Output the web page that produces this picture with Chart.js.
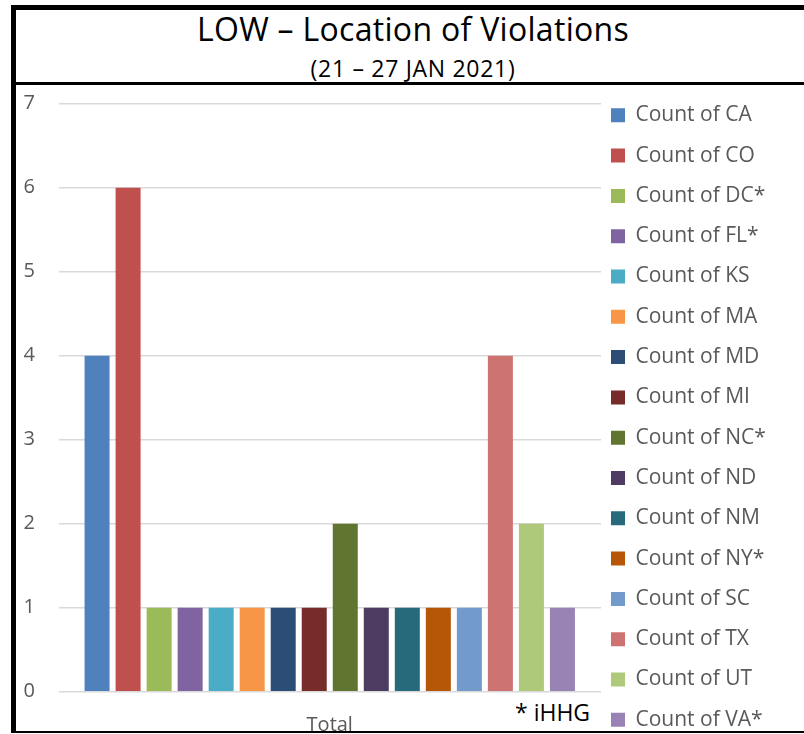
<!DOCTYPE html>
<html>
<head>
<meta charset="utf-8">
<script src="https://cdn.jsdelivr.net/npm/chart.js@4.4.1/dist/chart.umd.min.js"></script>
<style>
	body { margin: 0; width: 804px; height: 734px; overflow: hidden; background: #fff; position: relative; font-family: "Open Sans", sans-serif; }
	#frame { position: absolute; left: 11px; top: 5px; width: 830px; height: 721px; border-left: 5px solid #000; border-top: 5px solid #000; border-bottom: 2px solid #000; }
	#titleLine { position: absolute; left: 11px; top: 82px; width: 830px; height: 3px; background: #000; }
	.title { position: absolute; left: 16px; width: 794px; text-align: center; color: #000; white-space: nowrap; }
	#t1 { top: 12.5px; font-size: 32px; line-height: 32px; letter-spacing: 0.3px; }
	#t2 { top: 57px; font-size: 23px; line-height: 23px; letter-spacing: 0.7px; }
	#note { position: absolute; left: 515px; top: 701px; font-size: 23px; line-height: 23px; color: #000; }
	#wrap { position: absolute; left: 0; top: 0; width: 804px; height: 790px; }
</style>
</head>
<body>
<div id="frame"></div>
<div id="titleLine"></div>
<div class="title" id="t1">LOW – Location of Violations</div>
<div class="title" id="t2">(21 – 27 JAN 2021)</div>
<div id="note">* iHHG</div>
<div id="wrap"><canvas id="lowChart"></canvas></div>
<script>
// data
const categories = ["Total"];
const seriesNames = [
	"Count of CA", "Count of CO", "Count of DC*", "Count of FL*",
	"Count of KS", "Count of MA", "Count of MD", "Count of MI",
	"Count of NC*", "Count of ND", "Count of NM", "Count of NY*",
	"Count of SC", "Count of TX", "Count of UT", "Count of VA*",
];
const seriesValues = [4, 6, 1, 1, 1, 1, 1, 1, 2, 1, 1, 1, 1, 4, 2, 1];
const seriesColors = [
	"#4F81BD", "#C0504D", "#9BBB59", "#8064A2",
	"#4BACC6", "#F79646", "#2C4D75", "#772C2A",
	"#5F7530", "#4D3B62", "#276A7C", "#B65708",
	"#729ACA", "#CD7371", "#AFC97A", "#9983B5",
];
const yMin = 0;
const yMax = 7;

const FONT = '"Open Sans", sans-serif';
const GREY = "#595959";
const legendPad = 19.3;
const legendFont = 21;
const legendBox = 14;

// work out the legend width so the plot ends where the picture's does
const meas = document.createElement("canvas").getContext("2d");
meas.font = `${legendFont}px ${FONT}`;
const maxText = Math.max(...seriesNames.map((s) => meas.measureText(s).width));
const legendW = legendPad + legendBox + legendFont / 2 + maxText + 10;
const plotRight = 601;

// legend sits a little closer to the plot and higher than Chart.js puts it
const legendNudge = {
	id: "legendNudge",
	afterLayout(chart) {
		const lg = chart.legend;
		lg.left = chart.chartArea.right - 9.3;
		lg.top = chart.chartArea.top - 18.2;
	},
};

const ctx = document.getElementById("lowChart").getContext("2d");
new Chart(ctx, {
	type: "bar",
	data: {
		labels: categories,
		datasets: seriesNames.map((name, i) => ({
			label: name,
			data: [seriesValues[i]],
			backgroundColor: seriesColors[i],
			borderWidth: 0,
			categoryPercentage: 0.915,
			barPercentage: 0.806,
		})),
	},
	options: {
		responsive: true,
		maintainAspectRatio: false,
		animation: false,
		layout: {
			padding: { top: 103.7, left: 0, bottom: 0, right: 804 - plotRight - legendW },
		},
		scales: {
			x: {
				grid: { display: false },
				border: { display: false },
				ticks: { color: GREY, font: { family: FONT, size: 20 }, padding: 14 },
				afterFit: (s) => { s.height = 790 - 691.7; },
			},
			y: {
				min: yMin,
				max: yMax,
				grid: { color: "#d9d9d9", lineWidth: 1.6, drawTicks: false },
				border: { display: false },
				ticks: { stepSize: 1, color: GREY, font: { family: FONT, size: 20 }, padding: 23.5 },
				afterFit: (s) => { s.width = 58.5; },
			},
		},
		plugins: {
			legend: {
				position: "right",
				align: "start",
				labels: {
					color: GREY,
					font: { family: FONT, size: legendFont },
					boxWidth: legendBox,
					boxHeight: legendBox,
					padding: legendPad,
				},
			},
			tooltip: { enabled: false },
		},
	},
	plugins: [legendNudge],
});
</script>
</body>
</html>
